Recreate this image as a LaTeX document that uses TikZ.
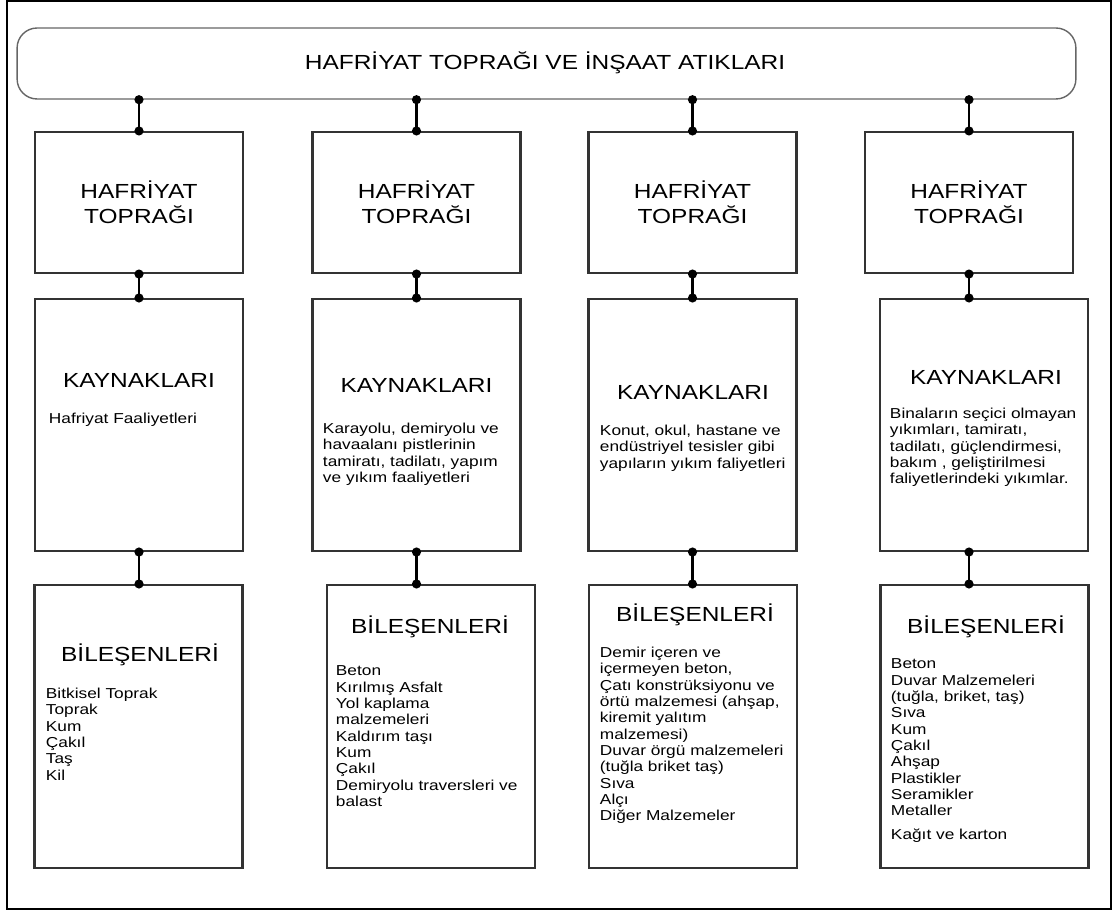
\documentclass[tikz,border=0pt]{standalone}
\usepackage{fontspec}
\setmainfont{Liberation Sans}[FakeStretch=1.2]
\usetikzlibrary{arrows.meta}

\newcommand{\bigtxt}{\fontsize{11.6}{14.2}\selectfont}
\newcommand{\smalltxt}{\fontsize{8.2}{9.3}\selectfont}

\begin{document}
\begin{tikzpicture}[x=0.02cm,y=-0.02cm,line width=1.1pt,
  box/.style={draw=black!80,line width=1.2pt,minimum width=4.16cm,inner sep=0pt},
  topbox/.style={box,minimum height=2.82cm},
  srcbox/.style={box,minimum height=5.04cm},
  partbox/.style={box,minimum height=5.66cm},
  title/.style={font=\bigtxt,align=center,inner sep=0pt},
  list/.style={font=\smalltxt,align=left,anchor=north west,inner sep=0pt},
  link/.style={line width=1.3pt,{Circle[length=0.18cm]}-{Circle[length=0.18cm]},shorten <=-0.09cm,shorten >=-0.09cm}]

\useasboundingbox (0,0) rectangle (1113,912);
\draw (7,1) rectangle (1111,909);

% Banner
\node[draw=black!60,line width=0.8pt,rounded corners=0.4cm,minimum width=21.18cm,minimum height=1.42cm] (banner) at (546.5,63.5) {};
\node[title] (bannertext) at (545,63) {HAFRİYAT TOPRAĞI VE İNŞAAT ATIKLARI};

% Boxes
\node[topbox] (haf1) at (139,202.5) {};
\node[topbox] (haf2) at (416.5,202.5) {};
\node[topbox] (haf3) at (692.5,202.5) {};
\node[topbox] (haf4) at (969,202.5) {};

\node[srcbox] (kay1) at (139,425) {};
\node[srcbox] (kay2) at (416.5,425) {};
\node[srcbox] (kay3) at (692.5,425) {};
\node[srcbox] (kay4) at (984,425) {};

\node[partbox] (bil1) at (138.5,726.5) {};
\node[partbox] (bil2) at (431,726.5) {};
\node[partbox] (bil3) at (693,726.5) {};
\node[partbox] (bil4) at (984.5,726.5) {};

% Connectors
\draw[link] (banner.south -| haf1.north) -- (haf1.north);
\draw[link] (banner.south -| haf2.north) -- (haf2.north);
\draw[link] (banner.south -| haf3.north) -- (haf3.north);
\draw[link] (banner.south -| haf4.north) -- (haf4.north);

\draw[link] (haf1.south) -- (kay1.north);
\draw[link] (haf2.south) -- (kay2.north);
\draw[link] (haf3.south) -- (kay3.north);
\draw[link] (haf4.south) -- (haf4.south |- kay4.north);

\draw[link] (kay1.south) -- (kay1.south |- bil1.north);
\draw[link] (kay2.south) -- (kay2.south |- bil2.north);
\draw[link] (kay3.south) -- (kay3.south |- bil3.north);
\draw[link] (haf4.south |- kay4.south) -- (haf4.south |- bil4.north);

% Titles
\node[title] (hafT1) at (139,202.5) {HAFRİYAT\\TOPRAĞI};
\node[title] (hafT2) at (416.5,202.5) {HAFRİYAT\\TOPRAĞI};
\node[title] (hafT3) at (692.5,202.5) {HAFRİYAT\\TOPRAĞI};
\node[title] (hafT4) at (969,202.5) {HAFRİYAT\\TOPRAĞI};

\node[title] (kayT1) at (139,380) {KAYNAKLARI};
\node[title] (kayT2) at (416.5,385) {KAYNAKLARI};
\node[title] (kayT3) at (693,392) {KAYNAKLARI};
\node[title] (kayT4) at (986,377) {KAYNAKLARI};

\node[title] (bilT1) at (140,655) {BİLEŞENLERİ};
\node[title] (bilT2) at (430,627) {BİLEŞENLERİ};
\node[title] (bilT3) at (695,615) {BİLEŞENLERİ};
\node[title] (bilT4) at (986,627) {BİLEŞENLERİ};

% Sources
\node[list] (kayL1) at (48,412) {Hafriyat Faaliyetleri};
\node[list] (kayL2) at (322,422) {Karayolu, demiryolu ve\\havaalanı pistlerinin\\tamiratı, tadilatı, yapım\\ve yıkım faaliyetleri};
\node[list] (kayL3) at (599,424) {Konut, okul, hastane ve\\endüstriyel tesisler gibi\\yapıların yıkım faliyetleri};
\node[list] (kayL4) at (889,407) {Binaların seçici olmayan\\yıkımları, tamiratı,\\tadilatı, güçlendirmesi,\\bakım , geliştirilmesi\\faliyetlerindeki yıkımlar.};

% Components
\node[list] (bilL1) at (45,687) {Bitkisel Toprak\\Toprak\\Kum\\Çakıl\\Taş\\Kil};
\node[list] (bilL2) at (335,665) {Beton\\Kırılmış Asfalt\\Yol kaplama\\malzemeleri\\Kaldırım taşı\\Kum\\Çakıl\\Demiryolu traversleri ve\\balast};
\node[list] (bilL3) at (599,646) {Demir içeren ve\\içermeyen beton,\\Çatı konstrüksiyonu ve\\örtü malzemesi (ahşap,\\kiremit yalıtım\\malzemesi)\\Duvar örgü malzemeleri\\(tuğla briket taş)\\Sıva\\Alçı\\Diğer Malzemeler};
\node[list] (bilL4) at (890,658) {Beton\\Duvar Malzemeleri\\(tuğla, briket, taş)\\Sıva\\Kum\\Çakıl\\Ahşap\\Plastikler\\Seramikler\\Metaller\\[4pt]Kağıt ve karton};

\end{tikzpicture}
\end{document}
